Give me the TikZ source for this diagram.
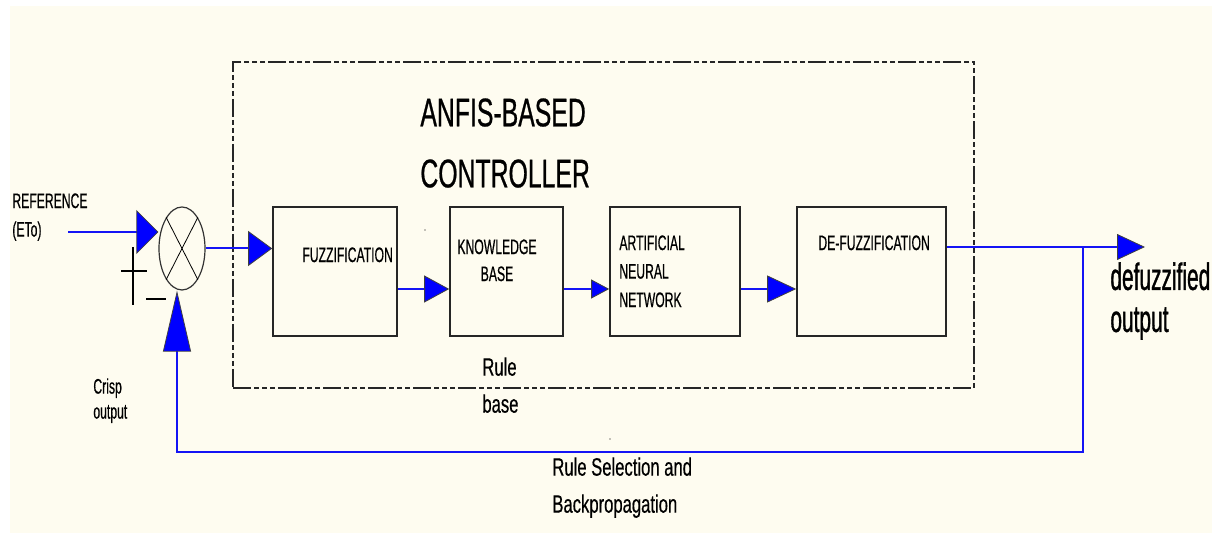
\documentclass[tikz,border=0pt]{standalone}
\usepackage{fontspec}
\newfontfamily\fA[FakeStretch=0.58,FakeBold=0.5]{Liberation Sans}
\newfontfamily\fB[FakeStretch=0.62,FakeBold=0.6]{Liberation Sans}
\newfontfamily\fC[FakeStretch=0.66,FakeBold=0.5]{Liberation Sans}
\newfontfamily\fD[FakeStretch=0.55,FakeBold=0.9]{Liberation Sans}
\usetikzlibrary{arrows.meta,shapes.geometric,fit}
\definecolor{cream}{HTML}{FEFCF0}
\definecolor{wireblue}{HTML}{1414F5}
\begin{document}
\begin{tikzpicture}[x=0.5pt,y=-0.5pt,
  blk/.style={draw=black!85, line width=0.8pt, inner sep=0pt},
  dashbox/.style={draw=black!85, line width=0.7pt, inner sep=0pt,
    dash pattern=on 9pt off 1.5pt on 2.5pt off 1.5pt on 2.5pt off 1.5pt on 2.5pt off 1.5pt},
  wire/.style={draw=wireblue, line width=1pt},
  arr/.style 2 args={-{Triangle[length=#1pt,width=#2pt,fill=blue,color=black!75,line width=0.4pt]}},
  small/.style={font=\fA\fontsize{10.5}{14.25}\selectfont, inner sep=0pt, anchor=north west, align=left},
  sign/.style={draw=black, line width=0.6pt}
]
\useasboundingbox (0,0) rectangle (1212,533);
\fill[cream] (10,6) rectangle (1212,533);

% controller frame and blocks
\node[dashbox, fit={(233,62)(974,388)}] (frame) {};
\node[blk, fit={(273,207)(397,336)}] (fuz) {};
\node[blk, fit={(450,207)(563,336)}] (kb) {};
\node[blk, fit={(610,207)(740,336)}] (ann) {};
\node[blk, fit={(797,207)(946,336)}] (def) {};

% summing junction
\node[draw=black!80, line width=0.6pt, ellipse, minimum width=23pt, minimum height=41.5pt, inner sep=0pt] (sum) at (182,248.5) {};
\draw[sign, line width=0.4pt] (sum.117) -- (sum.-63);
\draw[sign, line width=0.4pt] (sum.63) -- (sum.-117);
\draw[sign] (133,247) -- (133,305);
\draw[sign] (121,271) -- (147,271);
\draw[sign] (146,299) -- (166,299);

% texts
\node[font=\fB\fontsize{20}{30.5}\selectfont, inner sep=0pt, anchor=north west, align=left] (title) at (420,98) {ANFIS-BASED\\CONTROLLER};
\node[small] (reftxt) at (12,193) {REFERENCE\\(ETo)};
\node[small, font=\fA\fontsize{10.5}{12.5}\selectfont] (crisp) at (93,378) {Crisp\\output};
\node[small] (fuztxt) at (302,247) {FUZZIFICATION};
\node[small, anchor=north, align=center, font=\fA\fontsize{10.5}{13.5}\selectfont] (kbtxt) at (497,239) {KNOWLEDGE\\BASE};
\node[small] (anntxt) at (619,235) {ARTIFICIAL\\NEURAL\\NETWORK};
\node[small] (deftxt) at (818,235) {DE-FUZZIFICATION};
\node[font=\fC\fontsize{12.6}{18.5}\selectfont, inner sep=0pt, anchor=north west, align=left] (rulebase) at (482,357) {Rule\\base};
\node[font=\fC\fontsize{12.6}{18.5}\selectfont, inner sep=0pt, anchor=north west, align=left] (rulesel) at (552,457) {Rule Selection and\\Backpropagation};
\node[font=\fD\fontsize{19}{21}\selectfont, inner sep=0pt, anchor=north west, align=left] (outtxt) at (1110,262) {defuzzified\\output};

% connectors
\coordinate (refin) at (68,232);
\draw[wire, arr={11}{22}] (refin) -- (refin -| sum.west);
\draw[wire, arr={12}{17.5}] (sum.east) -- (sum.east -| fuz.west);
\coordinate (mid) at (0,289);
\draw[wire, arr={12.5}{13.5}] (fuz.east |- mid) -- (kb.west |- mid);
\draw[wire, arr={9}{9.5}] (kb.east |- mid) -- (ann.west |- mid);
\draw[wire, arr={14.5}{13.5}] (ann.east |- mid) -- (def.west |- mid);
\coordinate (out) at (1145,247);
\coordinate (jn) at (1083,247);
\draw[wire, arr={14}{13}] (def.east |- out) -- (out);
\coordinate (fb) at (177,452);
\draw[wire, arr={30.5}{14}] (jn) |- (fb) -- (fb |- sum.south);

% stray dots
\fill (425,230) circle (0.7);
\fill (610,439) circle (0.7);
\end{tikzpicture}
\end{document}
